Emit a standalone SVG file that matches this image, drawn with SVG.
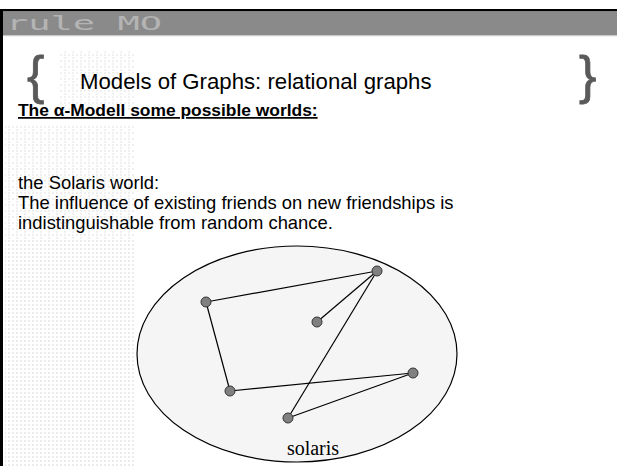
<svg xmlns="http://www.w3.org/2000/svg" width="617" height="466" viewBox="0 0 617 466">
<defs>
<style>
.txt{font-family:"Liberation Sans",Arial,sans-serif;fill:#000}
.brace{font-family:"Liberation Sans",Arial,sans-serif;font-size:52px;fill:#5a5a5a;stroke:#5a5a5a;stroke-width:0.8}
.edge{stroke:#000;stroke-width:1.2;fill:none}
.node{fill:#808080;stroke:#333;stroke-width:1}
</style>
<pattern id="dots" width="4" height="4" patternUnits="userSpaceOnUse">
<rect x="0" y="0" width="2" height="2" fill="#e6e6e6"/>
</pattern>
<pattern id="dots2" width="8" height="6" patternUnits="userSpaceOnUse">
<rect x="0" y="0" width="2" height="2" fill="#e8e8e8"/>
<rect x="4" y="0" width="2" height="2" fill="#e8e8e8"/>
<rect x="0" y="3" width="2" height="2" fill="#e8e8e8"/>
</pattern>
</defs>
<rect width="617" height="466" fill="#fff"/>
<!-- decorative dotted background -->
<g id="bg-pattern">
<polygon points="60,50 135,50 135,110 60,110" fill="url(#dots2)" opacity="0.6"/>
<polygon points="5,125 135,125 135,240 5,240" fill="url(#dots2)" opacity="0.7"/>
<polygon points="5,240 135,240 135,466 5,466" fill="url(#dots)" opacity="0.8"/>
</g>
<!-- header band -->
<g id="header">
<rect x="0" y="9" width="617" height="2.5" fill="#000"/>
<rect x="0" y="11.5" width="617" height="23.5" fill="#8a8a8a"/>
<rect x="0" y="35" width="617" height="1.2" fill="#c8c8c8"/>
<rect x="0" y="9" width="3" height="457" fill="#000"/>
<text x="6" y="30" font-family="'DejaVu Sans Mono',monospace" font-size="20" fill="#b4b4b4" textLength="156" lengthAdjust="spacingAndGlyphs">rule MO</text>
</g>
<g id="title">
<text class="brace" x="27" y="93">{</text>
<text class="brace" x="579" y="93">}</text>
<text class="txt" x="80" y="89" font-size="22.2">Models of Graphs: relational graphs</text>
<text class="txt" x="18" y="116" font-size="17.4" font-weight="bold" text-decoration="underline">The α-Modell some possible worlds:</text>
<text class="txt" x="18" y="189" font-size="18.4">the Solaris world:</text>
<text class="txt" x="18" y="209" font-size="18.4">The influence of existing friends on new friendships is</text>
<text class="txt" x="18" y="229" font-size="18.4">indistinguishable from random chance.</text>
</g>
<g id="world">
<ellipse cx="297" cy="354" rx="160" ry="108" fill="#f5f5f5" stroke="#000" stroke-width="1.2"/>
<text x="313" y="455" font-family="'Liberation Serif','Times New Roman',serif" font-size="20" text-anchor="middle" fill="#000">solaris</text>
</g>
<g id="connectors">
<line class="edge" x1="377" y1="271" x2="206" y2="302"/>
<line class="edge" x1="377" y1="271" x2="317" y2="322"/>
<line class="edge" x1="377" y1="271" x2="288" y2="418"/>
<line class="edge" x1="206" y1="302" x2="230" y2="391"/>
<line class="edge" x1="230" y1="391" x2="413" y2="373"/>
<line class="edge" x1="413" y1="373" x2="288" y2="418"/>
</g>
<g id="n1"><circle class="node" cx="377" cy="271" r="5"/></g>
<g id="n2"><circle class="node" cx="206" cy="302" r="5"/></g>
<g id="n3"><circle class="node" cx="317" cy="322" r="5"/></g>
<g id="n4"><circle class="node" cx="413" cy="373" r="5"/></g>
<g id="n5"><circle class="node" cx="230" cy="391" r="5"/></g>
<g id="n6"><circle class="node" cx="288" cy="418" r="5"/></g>
</svg>
